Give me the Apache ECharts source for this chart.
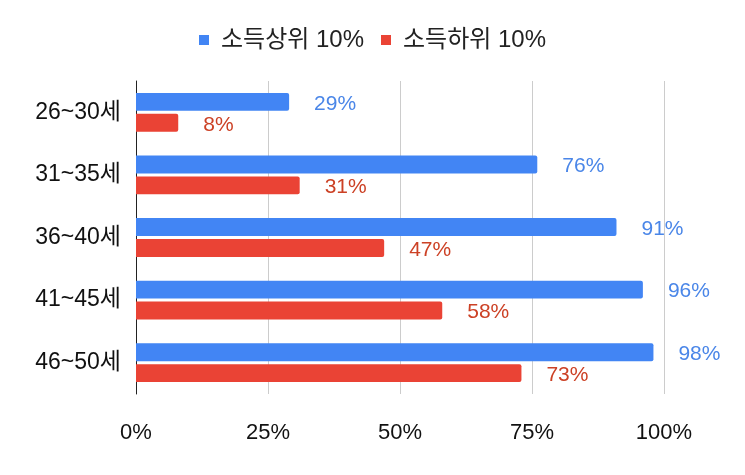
<!DOCTYPE html>
<html>
<head>
<meta charset="utf-8">
<script src="https://cdn.jsdelivr.net/npm/echarts@6/dist/echarts.min.js"></script>
<style>
  html, body { margin: 0; padding: 0; background: #fff; }
  #chart { width: 745px; height: 475px; }
</style>
</head>
<body>
<div id="chart"></div>
<script>
var categories = ['26~30세', '31~35세', '36~40세', '41~45세', '46~50세'];
var topIncome = [29, 76, 91, 96, 98];
var bottomIncome = [8, 31, 47, 58, 73];
var xTicks = [0, 25, 50, 75, 100];

var font = "'Liberation Sans', Arial, 'Noto Sans CJK KR', sans-serif";
var chart = echarts.init(document.getElementById('chart'));

var option = {
    backgroundColor: '#fff',
    textStyle: { fontFamily: font },
    legend: {
        top: 23,
        left: 'center',
        itemWidth: 10,
        itemHeight: 10,
        itemGap: 17,
        icon: 'rect',
        textStyle: { fontSize: 24, color: '#222', fontFamily: font, padding: [0, 0, 0, 7] },
        data: ['소득상위 10%', '소득하위 10%']
    },
    grid: { left: 136, right: 81, top: 81, bottom: 81 },
    xAxis: {
        type: 'value',
        min: xTicks[0],
        max: xTicks[xTicks.length - 1],
        interval: 25,
        axisLine: { show: false },
        axisTick: { show: false },
        axisLabel: { formatter: '{value}%', fontSize: 22, color: '#111', margin: 28, fontFamily: font },
        splitLine: { lineStyle: { color: '#ccc' } }
    },
    yAxis: {
        type: 'category',
        inverse: true,
        data: categories,
        axisLine: { lineStyle: { color: '#222', width: 1 } },
        axisTick: { show: false },
        axisLabel: { fontSize: 23, color: '#111', margin: 15, fontFamily: font }
    },
    series: [
        {
            name: '소득상위 10%',
            type: 'bar',
            data: topIncome,
            barCategoryGap: '38%',
            barGap: '17%',
            itemStyle: { color: '#4285f4', borderRadius: [0, 2, 2, 0] },
            label: { show: true, position: 'right', distance: 25, offset: [0, 2], formatter: '{c}%', fontSize: 21, color: '#4a86e8', fontFamily: font }
        },
        {
            name: '소득하위 10%',
            type: 'bar',
            data: bottomIncome,
            itemStyle: { color: '#ea4335', borderRadius: [0, 2, 2, 0] },
            label: { show: true, position: 'right', distance: 25, offset: [0, 2], formatter: '{c}%', fontSize: 21, color: '#cc4125', fontFamily: font }
        }
    ]
};

chart.setOption(option);
</script>
</body>
</html>
